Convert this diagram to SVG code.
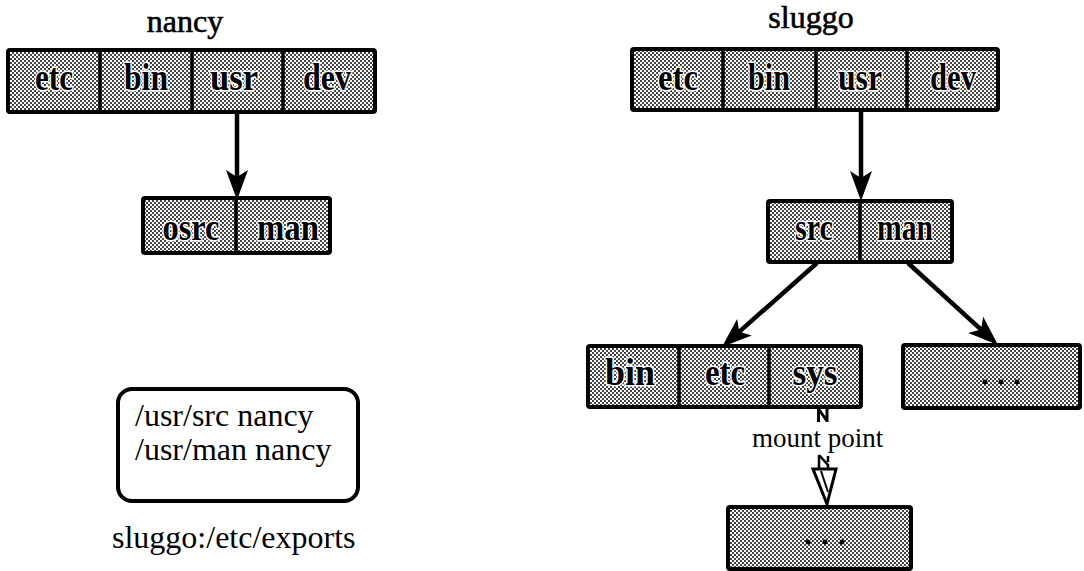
<svg xmlns="http://www.w3.org/2000/svg" width="1084" height="571" viewBox="0 0 1084 571">
<style>
.cell{fill:url(#stip);stroke:#000;stroke-width:4;stroke-linejoin:round}
.div{stroke:#000;stroke-width:3.5}
.lbl{font-family:"Liberation Serif","Times New Roman",serif;font-weight:bold;font-size:38px;text-anchor:middle;fill:#000;stroke:#fff;stroke-width:3;paint-order:stroke;stroke-linejoin:round}
.t{font-family:"Liberation Serif","Times New Roman",serif;font-size:32px;fill:#000}
.h{stroke:#000;stroke-width:0.6}
.c{text-anchor:middle}
.edge{stroke:#000;stroke-width:4.5;fill:none}
.dot{fill:#000}
</style>
<defs>
<pattern id="stip" width="4" height="4" patternUnits="userSpaceOnUse">
<rect width="4" height="4" fill="#fff"/>
<rect x="0" y="0" width="2" height="2" fill="#444"/>
<rect x="2" y="2" width="2" height="2" fill="#444"/>
</pattern>
<marker id="ah" viewBox="0 0 30 22" refX="15" refY="11" markerWidth="30" markerHeight="22" markerUnits="userSpaceOnUse" orient="auto">
<path d="M0,0 L30,11 L0,22 L7,11 Z" fill="#000"/>
</marker>
</defs>

<g id="nancy-title"><text class="t c h" x="185" y="32">nancy</text></g>
<g id="sluggo-title"><text class="t c h" x="811" y="28">sluggo</text></g>

<g id="nancy-root">
<rect class="cell" x="8" y="50" width="367" height="62" rx="2"/>
<line class="div" x1="100" y1="50" x2="100" y2="112"/>
<line class="div" x1="192" y1="50" x2="192" y2="112"/>
<line class="div" x1="283" y1="50" x2="283" y2="112"/>
<text class="lbl" x="54" y="90" textLength="38" lengthAdjust="spacingAndGlyphs">etc</text>
<text class="lbl" x="146" y="90" textLength="44" lengthAdjust="spacingAndGlyphs">bin</text>
<text class="lbl" x="234" y="90" textLength="48" lengthAdjust="spacingAndGlyphs">usr</text>
<text class="lbl" x="327" y="90" textLength="48" lengthAdjust="spacingAndGlyphs">dev</text>
</g>

<g id="nancy-usr">
<rect class="cell" x="143" y="198" width="187" height="55" rx="2"/>
<line class="div" x1="236" y1="198" x2="236" y2="253"/>
<text class="lbl" x="191" y="240" textLength="57" lengthAdjust="spacingAndGlyphs">osrc</text>
<text class="lbl" x="288" y="240" textLength="62" lengthAdjust="spacingAndGlyphs">man</text>
</g>

<g id="exports">
<rect x="118" y="389" width="240" height="112" rx="14" fill="none" stroke="#000" stroke-width="4"/>
<text class="t" x="135" y="426">/usr/src nancy</text>
<text class="t" x="135" y="460">/usr/man nancy</text>
</g>
<g id="exports-caption"><text class="t" x="112" y="548">sluggo:/etc/exports</text></g>

<g id="sluggo-root">
<rect class="cell" x="632" y="49" width="366" height="61" rx="2"/>
<line class="div" x1="723" y1="49" x2="723" y2="110"/>
<line class="div" x1="816" y1="49" x2="816" y2="110"/>
<line class="div" x1="907" y1="49" x2="907" y2="110"/>
<text class="lbl" x="678" y="90" textLength="40" lengthAdjust="spacingAndGlyphs">etc</text>
<text class="lbl" x="769" y="90" textLength="42" lengthAdjust="spacingAndGlyphs">bin</text>
<text class="lbl" x="860" y="90" textLength="44" lengthAdjust="spacingAndGlyphs">usr</text>
<text class="lbl" x="953" y="90" textLength="46" lengthAdjust="spacingAndGlyphs">dev</text>
</g>

<g id="sluggo-usr">
<rect class="cell" x="768" y="201" width="184" height="61" rx="2"/>
<line class="div" x1="860" y1="201" x2="860" y2="262"/>
<text class="lbl" x="814" y="240" textLength="38" lengthAdjust="spacingAndGlyphs">src</text>
<text class="lbl" x="905" y="240" textLength="56" lengthAdjust="spacingAndGlyphs">man</text>
</g>

<g id="sluggo-src">
<rect class="cell" x="588" y="346" width="273" height="61" rx="2"/>
<line class="div" x1="679" y1="346" x2="679" y2="407"/>
<line class="div" x1="769" y1="346" x2="769" y2="407"/>
<text class="lbl" x="630" y="385" textLength="50" lengthAdjust="spacingAndGlyphs">bin</text>
<text class="lbl" x="725" y="385" textLength="40" lengthAdjust="spacingAndGlyphs">etc</text>
<text class="lbl" x="815" y="385" textLength="45" lengthAdjust="spacingAndGlyphs">sys</text>
</g>

<g id="sluggo-man">
<rect class="cell" x="903" y="345" width="177" height="63" rx="2"/>
<circle class="dot" cx="985" cy="382" r="2.5"/>
<circle class="dot" cx="1001" cy="382" r="2.5"/>
<circle class="dot" cx="1017" cy="382" r="2.5"/>
</g>

<g id="mounted">
<rect class="cell" x="728" y="507" width="183" height="62" rx="2"/>
<circle class="dot" cx="808" cy="542" r="2.5"/>
<circle class="dot" cx="825" cy="542" r="2.5"/>
<circle class="dot" cx="842" cy="542" r="2.5"/>
</g>

<g id="connectors">
<line class="edge" x1="237" y1="113" x2="237" y2="185" marker-end="url(#ah)"/>
<line class="edge" x1="861" y1="111" x2="861" y2="186" marker-end="url(#ah)"/>
<line class="edge" x1="817" y1="263" x2="733.2" y2="337.1" marker-end="url(#ah)"/>
<line class="edge" x1="908" y1="263" x2="986.9" y2="334.9" marker-end="url(#ah)"/>
<g id="mount-arrow" fill="none" stroke="#000" stroke-linejoin="miter">
<path d="M818.5,408 V422 M818.5,409 L827,421 M827,408 V422" stroke-width="3"/>
<path d="M819,455 L828,465 V469 M819,455 V469 M828,456 V462" stroke-width="2.5"/>
<path d="M813,469 H836 L827,504 Z" fill="#fff" stroke-width="3"/>
<path d="M821,471 L828,492" stroke-width="2"/>
</g>
<text class="t" x="752" y="447" style="font-size:27px">mount point</text>
</g>
</svg>
